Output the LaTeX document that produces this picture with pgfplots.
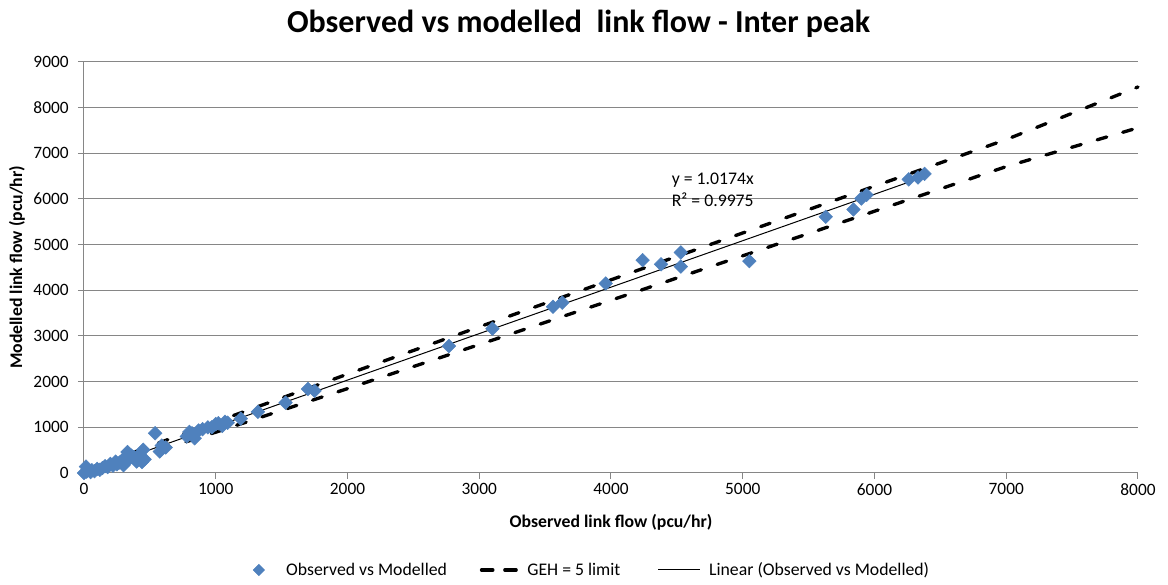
\documentclass[border=0pt]{standalone}
\usepackage{pgfplots}
\pgfplotsset{compat=1.18}
\usepackage{fontspec}
\setmainfont{Carlito}
\definecolor{ptblue}{HTML}{4F81BD}
\definecolor{gridgray}{HTML}{868686}
\pgfplotsset{
  mklegend/.style={legend image code/.code={\path[draw=none, fill=none] (-6pt,-3pt) rectangle (14pt,3pt); \draw[##1, mark size=3pt] plot coordinates {(-2pt,0pt)};}},
  gehlegend/.style={legend image code/.code={\draw[##1, dash pattern=on 8.5pt off 9pt] (1.25pt,0pt) -- (31pt,0pt);}},
  linlegend/.style={legend image code/.code={\draw[##1] (0pt,0pt) -- (31.5pt,0pt);}},
}
\begin{document}
\begin{tikzpicture}
\useasboundingbox (-63pt,-84pt) rectangle (813pt,354.75pt);
\begin{axis}[
  at={(0,0)}, anchor=south west,
  scale only axis, width=790.5pt, height=308.25pt,
  xmin=0, xmax=8000, ymin=0, ymax=9000,
  xtick={0,1000,...,8000}, ytick={0,1000,...,9000},
  axis x line=bottom, axis y line=left,
  axis line style={gridgray, line width=0.75pt, -},
  ymajorgrids, major grid style={gridgray, line width=0.75pt},
  tick align=outside, major tick length=4.5pt,
  tick style={gridgray, line width=0.75pt},
  tick label style={font=\fontsize{13}{15}\selectfont, text=black},
  yticklabel style={xshift=-3.5pt},
  /pgf/number format/1000 sep={}, /pgf/number format/assume math mode=true,
  xlabel={Observed link flow (pcu/hr)},
  ylabel={Modelled link flow (pcu/hr)},
  every axis x label/.style={at={(axis description cs:0.5,-0.1192)}, anchor=center, font=\fontsize{13.3}{16}\selectfont\bfseries},
  every axis y label/.style={at={(axis description cs:-0.0636,0.5)}, rotate=90, anchor=center, font=\fontsize{13.3}{16}\selectfont\bfseries},
  clip=false,
  legend columns=3,
  legend cell align=left,
  legend style={at={(axis description cs:0.484,-0.236)}, anchor=center, draw=none,
    font=\fontsize{13.3}{16}\selectfont,
    nodes={inner sep=4.4pt},
    /tikz/column 1/.style={column sep=0pt},
    /tikz/column 2/.style={column sep=20.25pt},
    /tikz/column 3/.style={column sep=-1pt},
    /tikz/column 4/.style={column sep=23.5pt},
    /tikz/column 5/.style={column sep=2pt}},
]
\addplot[only marks, mark=square*, mark size=3.6pt, mark options={rotate=45, fill=ptblue, draw=ptblue}, mklegend] coordinates {
(0,0) (15,140) (20,30) (50,20) (60,60) (80,40) (100,90) (120,70) (140,110) (160,150)
(180,130) (200,200) (220,160) (240,250) (250,190) (270,230) (290,280) (300,170) (310,330)
(330,460) (340,300) (360,380) (380,350) (400,250) (420,400) (440,240) (450,510) (460,300)
(540,870) (575,470) (590,600) (620,560) (780,800) (800,900) (820,870) (840,760) (870,930)
(900,960) (940,1000) (970,1000) (1000,1070) (1020,1090) (1050,1030) (1070,1120) (1090,1100)
(1190,1190) (1320,1340) (1530,1540) (1700,1840) (1750,1800) (2770,2780) (3100,3160)
(3560,3640) (3630,3730) (3960,4150) (4240,4660) (4380,4570) (4530,4830) (4530,4520)
(5050,4640) (5630,5610) (5840,5770) (5900,6010) (5940,6090) (6260,6430) (6330,6470) (6380,6550)
};
\addlegendentry{Observed vs Modelled}
\addplot[black, line width=2.5pt, line cap=round, dash pattern=on 7.5pt off 12.5pt, gehlegend] coordinates {
(0,12.5) (50,82) (100,142) (250,312.5) (500,586) (1000,1118) (2000,2165) (3000,3200)
(4000,4230) (5000,5256) (6000,6280) (7000,7302) (8000,8453)
};
\addlegendentry{GEH = 5 limit}
\addplot[black, line width=2.5pt, line cap=round, dash pattern=on 7.5pt off 12.5pt, forget plot] coordinates {
(0,0) (50,30.5) (100,70) (250,200) (500,427) (1000,894) (2000,1848) (3000,2812.5)
(4000,3783) (5000,4756) (6000,5732) (7000,6710) (8000,7559)
};
\addplot[black, line width=0.75pt, linlegend] coordinates {(0,0) (6390,6501)};
\addlegendentry{Linear (Observed vs Modelled)}
\node[anchor=west, font=\fontsize{13.3}{16}\selectfont, inner sep=0pt] at (axis cs:4460,6420) {y = 1.0174x};
\node[anchor=west, font=\fontsize{13.3}{16}\selectfont, inner sep=0pt] at (axis cs:4460,5980) {R² = 0.9975};
\end{axis}
\node[font=\fontsize{24}{28}\selectfont\bfseries] at (371pt,336.75pt) {Observed vs modelled\ \ link flow - Inter peak};
\end{tikzpicture}
\end{document}
